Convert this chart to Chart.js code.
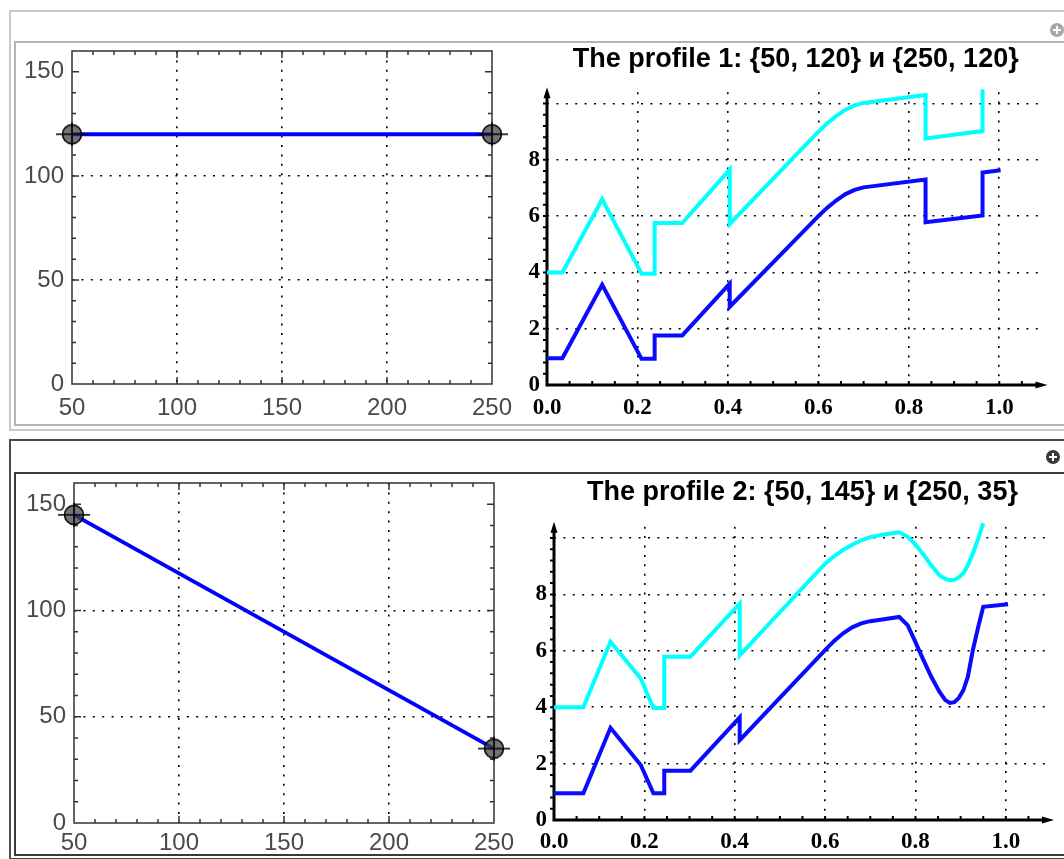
<!DOCTYPE html>
<html>
<head>
<meta charset="utf-8">
<script src="https://cdn.jsdelivr.net/npm/chart.js@4/dist/chart.umd.min.js"></script>
<style>
  body { margin: 0; background: #fff; width: 1064px; height: 859px; overflow: hidden; position: relative; }
  .cell { position: absolute; box-sizing: border-box; }
  canvas { position: absolute; }
  .plus { position: absolute; width: 14px; height: 14px; border-radius: 50%; }
  .plus::before, .plus::after { content: ''; position: absolute; background: #fff; }
  .plus::before { left: 3px; top: 6px; width: 8px; height: 2px; }
  .plus::after { left: 6px; top: 3px; width: 2px; height: 8px; }
</style>
</head>
<body>
<div class="cell" style="left:9px;top:10px;width:1070px;height:421px;border:2px solid #c8c8c8"></div>
<div class="cell" style="left:14px;top:41px;width:1070px;height:385px;border:2px solid #b4b4b4"></div>
<div class="plus" style="left:1050px;top:23px;background:#a8a8a8"></div>
<div class="cell" style="left:9px;top:439px;width:1070px;height:421px;border:2px solid #4a4a4a"></div>
<div class="cell" style="left:14px;top:472px;width:1070px;height:384px;border:2px solid #3a3a3a"></div>
<div class="plus" style="left:1046px;top:450px;background:#3a3a3a"></div>

<canvas id="c1" width="500" height="380" style="left:15px;top:43px"></canvas>
<canvas id="c2" width="564" height="380" style="left:500px;top:43px"></canvas>
<canvas id="c3" width="500" height="385" style="left:15px;top:474px"></canvas>
<canvas id="c4" width="564" height="385" style="left:500px;top:474px"></canvas>

<script>
// end points of the two profiles (left panels)
const endX = [50, 250];
const prof1Y = [120, 120];
const prof2Y = [145, 35];

// profile 1 curves (right panel, top)
const p1BlueX = [0, 0.034, 0.122, 0.209, 0.238, 0.238, 0.299, 0.404, 0.404, 0.6, 0.62, 0.64, 0.66, 0.68, 0.7, 0.837, 0.837, 0.963, 0.963, 1.003];
const p1BlueY = [0.95, 0.95, 3.56, 0.93, 0.93, 1.76, 1.76, 3.6, 2.78, 6.0, 6.3, 6.56, 6.78, 6.93, 7.02, 7.3, 5.78, 6.02, 7.55, 7.63];
const p1CyanX = [0, 0.034, 0.122, 0.209, 0.238, 0.238, 0.299, 0.404, 0.404, 0.6, 0.62, 0.64, 0.66, 0.68, 0.7, 0.837, 0.837, 0.963, 0.963];
const p1CyanY = [4.0, 4.0, 6.6, 3.95, 3.95, 5.75, 5.75, 7.65, 5.72, 9.0, 9.3, 9.56, 9.78, 9.93, 10.02, 10.3, 8.76, 9.02, 10.5];

// profile 2 curves (right panel, bottom)
const p2BlueX = [0, 0.065, 0.125, 0.192, 0.22, 0.244, 0.244, 0.302, 0.411, 0.411, 0.6, 0.62, 0.64, 0.66, 0.68, 0.7, 0.73, 0.764, 0.783, 0.798, 0.816, 0.835, 0.853, 0.866, 0.876, 0.886, 0.896, 0.906, 0.916, 0.927, 0.939, 0.95, 1.005];
const p2BlueY = [0.95, 0.95, 3.27, 1.95, 0.95, 0.95, 1.75, 1.75, 3.64, 2.83, 6.02, 6.35, 6.62, 6.83, 6.97, 7.05, 7.12, 7.2, 6.9, 6.38, 5.73, 5.08, 4.55, 4.25, 4.15, 4.18, 4.33, 4.6, 5.08, 6.02, 6.85, 7.56, 7.65];
const p2CyanX = [0, 0.065, 0.125, 0.192, 0.22, 0.244, 0.244, 0.302, 0.411, 0.411, 0.6, 0.62, 0.64, 0.66, 0.68, 0.7, 0.73, 0.764, 0.783, 0.798, 0.816, 0.835, 0.853, 0.866, 0.876, 0.886, 0.896, 0.906, 0.916, 0.927, 0.939, 0.95];
const p2CyanY = [4.0, 4.0, 6.32, 5.02, 3.97, 3.97, 5.79, 5.79, 7.67, 5.84, 9.09, 9.35, 9.58, 9.76, 9.92, 10.03, 10.12, 10.2, 10.04, 9.8, 9.45, 9.03, 8.68, 8.55, 8.5, 8.52, 8.6, 8.75, 9.03, 9.45, 9.98, 10.53];

const titles = ['The profile 1: {50, 120} и {250, 120}', 'The profile 2: {50, 145} и {250, 35}'];

function pts(xs, ys) {
  return xs.map((x, i) => ({ x: x, y: ys[i] }));
}

// grey disc with a cross, like the Mathematica locator
function makeMarker() {
  const c = document.createElement('canvas');
  c.width = 36; c.height = 28;
  const g = c.getContext('2d');
  g.beginPath();
  g.arc(18, 14, 9.5, 0, Math.PI * 2);
  g.fillStyle = 'rgba(70,70,70,0.75)';
  g.fill();
  g.lineWidth = 1.5;
  g.strokeStyle = '#000';
  g.stroke();
  g.beginPath();
  g.moveTo(2, 14); g.lineTo(34, 14);
  g.moveTo(18, 2); g.lineTo(18, 26);
  g.stroke();
  return c;
}
const marker = makeMarker();

// frame with inward ticks on all four sides
const frameTicks = {
  id: 'frameTicks',
  beforeDatasetsDraw(chart) {
    const { ctx, chartArea: a, scales } = chart;
    ctx.save();
    ctx.strokeStyle = '#333';
    ctx.lineWidth = 1.5;
    ctx.strokeRect(a.left, a.top, a.right - a.left, a.bottom - a.top);
    ctx.beginPath();
    for (let v = 60; v < 250; v += 10) {
      const x = scales.x.getPixelForValue(v);
      const len = v % 50 === 0 ? 7 : 4;
      ctx.moveTo(x, a.bottom); ctx.lineTo(x, a.bottom - len);
      ctx.moveTo(x, a.top); ctx.lineTo(x, a.top + len);
    }
    for (let v = 10; v <= 150; v += 10) {
      const y = scales.y.getPixelForValue(v);
      const len = v % 50 === 0 ? 7 : 4;
      ctx.moveTo(a.left, y); ctx.lineTo(a.left + len, y);
      ctx.moveTo(a.right, y); ctx.lineTo(a.right - len, y);
    }
    ctx.stroke();
    ctx.restore();
  }
};

// thick axes with arrow heads
const arrowAxes = {
  id: 'arrowAxes',
  beforeDatasetsDraw(chart) {
    const { ctx, chartArea: a, scales } = chart;
    ctx.save();
    ctx.strokeStyle = '#000';
    ctx.fillStyle = '#000';
    ctx.lineWidth = 3;
    ctx.beginPath();
    ctx.moveTo(a.left, a.bottom + 1.5); ctx.lineTo(a.left, a.top + 2);
    ctx.moveTo(a.left - 1.5, a.bottom); ctx.lineTo(a.right - 4, a.bottom);
    ctx.stroke();
    ctx.beginPath();
    ctx.moveTo(a.left, a.top - 5); ctx.lineTo(a.left - 3.5, a.top + 6); ctx.lineTo(a.left + 3.5, a.top + 6); ctx.closePath();
    ctx.moveTo(a.right + 3, a.bottom); ctx.lineTo(a.right - 9, a.bottom - 3.5); ctx.lineTo(a.right - 9, a.bottom + 3.5); ctx.closePath();
    ctx.fill();
    ctx.lineWidth = 2;
    ctx.beginPath();
    for (let v = 0.05; v < 1.07; v += 0.05) {
      const x = scales.x.getPixelForValue(v);
      ctx.moveTo(x, a.bottom); ctx.lineTo(x, a.bottom - 4);
    }
    for (let v = 0.4; v < 10.3; v += 0.4) {
      const y = scales.y.getPixelForValue(v);
      ctx.moveTo(a.left, y); ctx.lineTo(a.left - 4, y);
    }
    ctx.stroke();
    ctx.restore();
  }
};

const clear = 'rgba(0,0,0,0)';

function profileChart(id, ys, yW, xH, pad, xPad) {
  return new Chart(document.getElementById(id), {
    type: 'scatter',
    data: {
      datasets: [{
        data: pts(endX, ys),
        showLine: true,
        borderColor: '#0000ff',
        borderWidth: 4,
        pointStyle: marker,
        pointRadius: 10,
        clip: false
      }]
    },
    options: {
      responsive: false,
      animation: false,
      events: [],
      layout: { padding: pad, autoPadding: false },
      plugins: { legend: { display: false }, tooltip: { enabled: false } },
      scales: {
        x: {
          type: 'linear', min: 50, max: 250,
          afterFit(s) { s.height = xH; s.paddingLeft = 0; s.paddingRight = 0; },
          ticks: { stepSize: 50, includeBounds: false, padding: xPad, maxRotation: 0, color: '#4a4a4a',
                   font: { family: 'Liberation Sans', size: 24 } },
          grid: { drawTicks: false, lineWidth: 1.6,
                  color: c => (c.tick && [100, 150, 200].includes(c.tick.value)) ? '#000' : clear },
          border: { display: false, dash: [2, 7.4] }
        },
        y: {
          type: 'linear', min: 0, max: 160,
          afterFit(s) { s.width = yW; s.paddingTop = 0; s.paddingBottom = 0; },
          ticks: { stepSize: 50, includeBounds: false, padding: 8, color: '#4a4a4a',
                   font: { family: 'Liberation Sans', size: 24 } },
          grid: { drawTicks: false, lineWidth: 1.6,
                  color: c => (c.tick && [50, 100].includes(c.tick.value)) ? '#000' : clear },
          border: { display: false, dash: [2, 7.4] }
        }
      }
    },
    plugins: [frameTicks]
  });
}

function curveChart(id, title, blue, cyan, yW, xH, pad, tPad, xPad) {
  return new Chart(document.getElementById(id), {
    type: 'scatter',
    data: {
      datasets: [
        { data: cyan, showLine: true, borderColor: '#00ffff', borderWidth: 4, pointRadius: 0, clip: false, borderJoinStyle: 'miter' },
        { data: blue, showLine: true, borderColor: '#0a0aff', borderWidth: 4, pointRadius: 0, clip: false, borderJoinStyle: 'miter' }
      ]
    },
    options: {
      responsive: false,
      animation: false,
      events: [],
      layout: { padding: pad, autoPadding: false },
      plugins: {
        legend: { display: false },
        tooltip: { enabled: false },
        title: { display: true, text: title, fullSize: false, color: '#000', padding: tPad,
                 font: { family: 'Liberation Sans', size: 27, weight: 'bold' } }
      },
      scales: {
        x: {
          type: 'linear', min: 0, max: 1.1,
          afterFit(s) { s.height = xH; s.paddingLeft = 0; s.paddingRight = 0; },
          ticks: { stepSize: 0.2, includeBounds: false, padding: xPad, maxRotation: 0, color: '#000',
                   callback: v => Number(v).toFixed(1),
                   font: { family: 'Liberation Serif', size: 23, weight: 'bold' } },
          grid: { drawTicks: false, lineWidth: 1.6, color: c => (c.tick && c.tick.value > 0.01) ? '#000' : clear },
          border: { display: false, dash: [2, 7.4] }
        },
        y: {
          type: 'linear', min: 0, max: 10.4,
          afterFit(s) { s.width = yW; s.paddingTop = 0; s.paddingBottom = 0; },
          ticks: { stepSize: 2, includeBounds: false, padding: 7, color: '#000',
                   callback: v => (v > 9 ? '' : String(v)),
                   font: { family: 'Liberation Serif', size: 23, weight: 'bold' } },
          grid: { drawTicks: false, lineWidth: 1.6, color: c => (c.tick && c.tick.value > 0.01) ? '#000' : clear },
          border: { display: false, dash: [2, 7.4] }
        }
      }
    },
    plugins: [arrowAxes]
  });
}

profileChart('c1', prof1Y, 57, 39, { top: 8, right: 23 }, 10);
profileChart('c3', prof2Y, 59, 36, { top: 9, right: 21 }, 6);
curveChart('c2', titles[0], pts(p1BlueX, p1BlueY), pts(p1CyanX, p1CyanY), 47, 38, { right: 19.5 }, { top: 0.8, bottom: 16 }, 9);
curveChart('c4', titles[1], pts(p2BlueX, p2BlueY), pts(p2CyanX, p2CyanY), 54, 39, { right: 13 }, { top: 2.8, bottom: 17.5 }, 8);
</script>
</body>
</html>
